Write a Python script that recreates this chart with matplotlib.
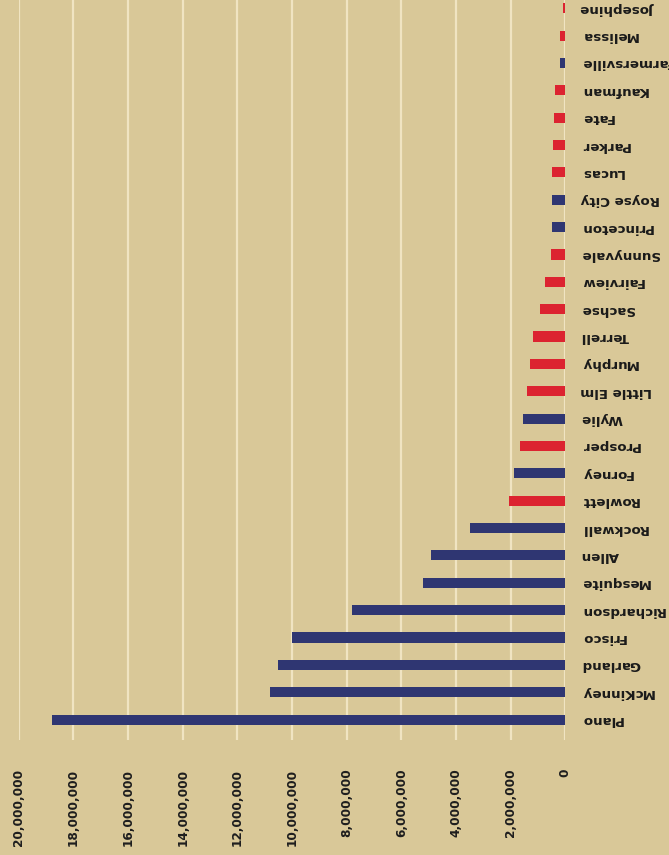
import matplotlib
matplotlib.use('Agg')
import matplotlib.pyplot as plt
from matplotlib.ticker import FuncFormatter
import numpy as np

# cities, bottom to top as they appear in the scan
cities = ['Plano', 'McKinney', 'Garland', 'Frisco', 'Richardson', 'Mesquite',
          'Allen', 'Rockwall', 'Rowlett', 'Forney', 'Prosper', 'Wylie',
          'Little Elm', 'Murphy', 'Terrell', 'Sachse', 'Fairview', 'Sunnyvale',
          'Princeton', 'Royse City', 'Lucas', 'Parker', 'Fate', 'Kaufman',
          'Farmersville', 'Melissa', 'Josephine']
values = [18800000, 10800000, 10500000, 10000000, 7800000, 5200000,
          4900000, 3500000, 2050000, 1870000, 1670000, 1550000,
          1400000, 1300000, 1170000, 920000, 730000, 510000,
          500000, 480000, 470000, 440000, 420000, 370000,
          200000, 200000, 70000]
group = ['b', 'b', 'b', 'b', 'b', 'b', 'b', 'b', 'r', 'b', 'r', 'b',
         'r', 'r', 'r', 'r', 'r', 'r', 'b', 'b', 'r', 'r', 'r', 'r',
         'b', 'r', 'r']
ticks = np.arange(0, 20000001, 2000000)

palette = {'b': '#2f3672', 'r': '#dc2330'}
bg = '#d9c898'

fig = plt.figure(figsize=(6.69, 8.55), dpi=100, facecolor=bg)
ax = fig.add_axes([0.028, 0.135, 0.817, 0.865])
ax.set_facecolor(bg)

y = np.arange(len(cities))
ax.barh(y, values, height=0.37, color=[palette[g] for g in group], zorder=3)

ax.set_xlim(20000000, 0)
ax.set_ylim(-0.73, len(cities) - 0.7)
ax.set_xticks(ticks)
ax.xaxis.set_major_formatter(FuncFormatter(lambda v, p: '{:,.0f}'.format(v)))
ax.grid(axis='x', color='#f0e4c2', linewidth=1.6, zorder=0)

for lbl in ax.get_xticklabels():
    lbl.set_rotation(90)
    lbl.set_va('top')
    lbl.set_fontsize(8.7)
    lbl.set_fontweight('bold')
    lbl.set_color('#1e1e1e')
ax.tick_params(axis='x', length=0, pad=21)

ax.yaxis.tick_right()
ax.set_yticks(y)
ax.set_yticklabels(cities, rotation=180, fontsize=9.6, fontweight='bold',
                   color='#1a1a1a', ha='left', va='center')
ax.tick_params(axis='y', length=0, pad=11)

for s in ax.spines.values():
    s.set_visible(False)

fig.savefig('out.png', dpi=100, facecolor=bg)
